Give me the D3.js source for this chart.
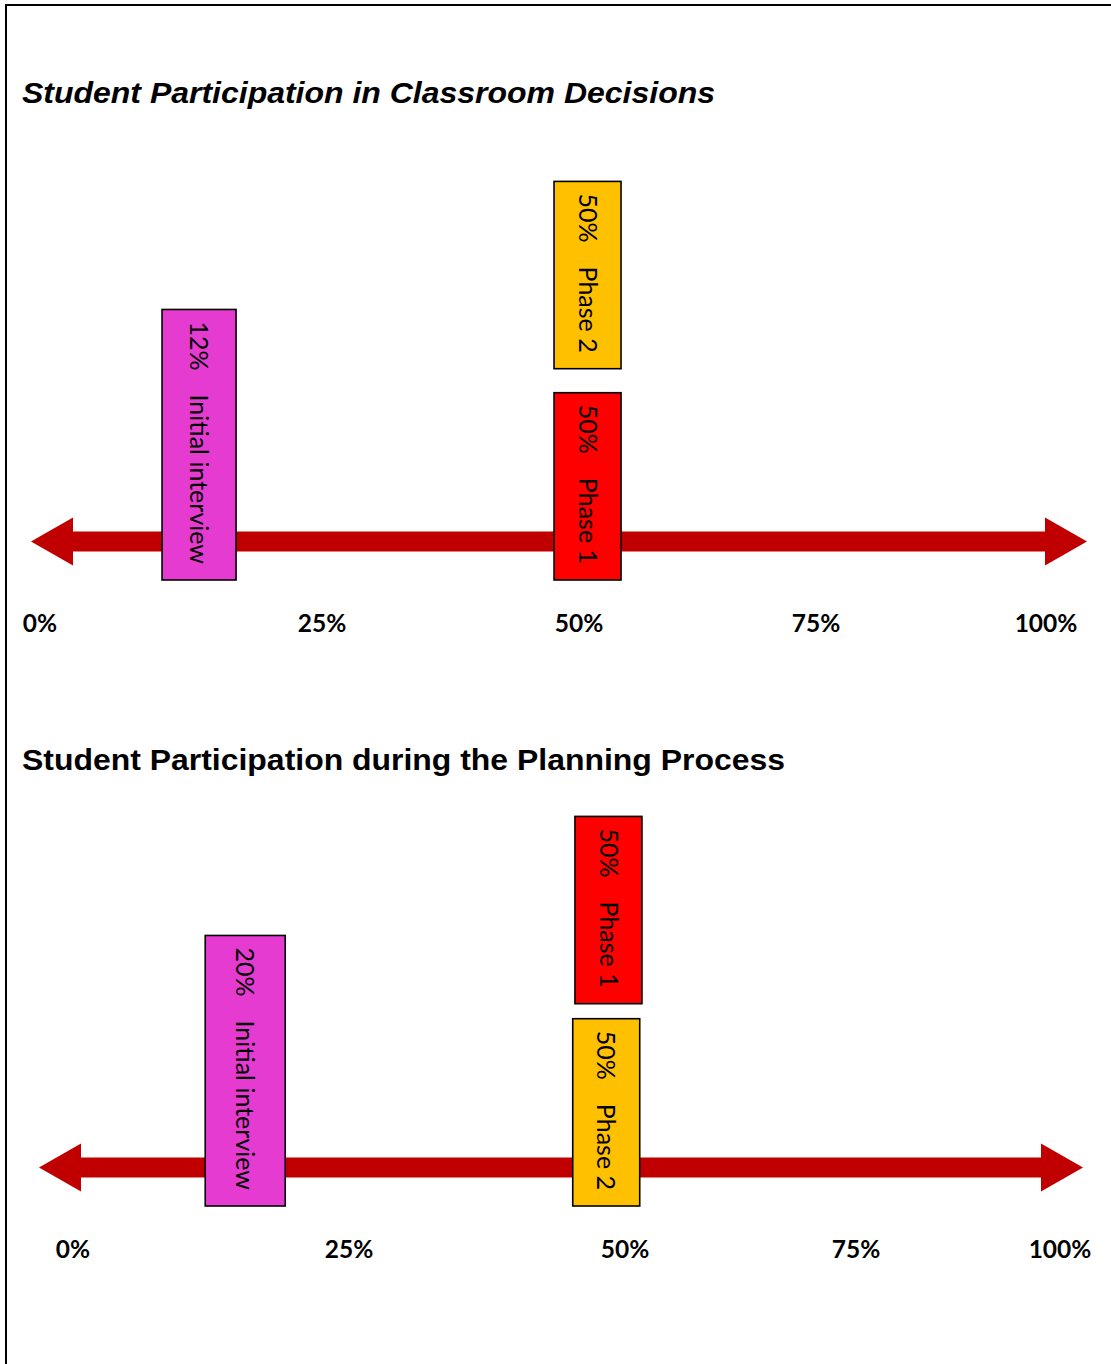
<!DOCTYPE html>
<html>
<head>
<meta charset="utf-8">
<script src="https://cdn.jsdelivr.net/npm/d3@7"></script>
<style>
  html, body { margin: 0; padding: 0; background: #fff; }
  svg { display: block; }
</style>
</head>
<body>
<div id="chart"></div>
<script>
// tick values + labels shared by both timelines
const ticks = [0, 25, 50, 75, 100]
const tickLabels = ['0%', '25%', '50%', '75%', '100%']

const titles = [
  'Student Participation in Classroom Decisions',
  'Student Participation during the Planning Process'
]

// chart 1 (bottom of stack first)
const stages1 = ['Initial interview', 'Phase 1', 'Phase 2']
const values1 = [12, 50, 50]
const where1 = [14.1, 50.9, 50.9]   // where the box sits on the line
const level1 = [0, 0, 1]

// chart 2
const stages2 = ['Initial interview', 'Phase 2', 'Phase 1']
const values2 = [20, 50, 50]
const where2 = [15.6, 48.3, 48.5]
const level2 = [0, 0, 1]

const stageColor = {
  'Initial interview': '#e63bd0',
  'Phase 1': '#ff0000',
  'Phase 2': '#ffc000'
}

const width = 1111
const height = 1364

const svg = d3.select('#chart')
  .append('svg')
  .attr('width', width)
  .attr('height', height)

// page frame (runs off the right and bottom edges)
svg.append('rect')
  .attr('x', 6).attr('y', 5)
  .attr('width', 1300).attr('height', 1500)
  .attr('fill', 'none')
  .attr('stroke', '#000')
  .attr('stroke-width', 2)

const layouts = [
  { titleY: 103, titleW: 693, italic: true, axisY: 541.5, tickX: [40, 322, 579, 816, 1046], arrow: [31, 1087], initW: 74, gap: 24 },
  { titleY: 770, titleW: 763, italic: false, axisY: 1167.5, tickX: [73, 349, 625, 856, 1060], arrow: [39, 1083], initW: 80, gap: 15 }
]

const charts = [
  { stages: stages1, values: values1, where: where1, level: level1 },
  { stages: stages2, values: values2, where: where2, level: level2 }
]

charts.forEach((c, i) => drawTimeline(c, layouts[i], titles[i]))

function drawTimeline(c, L, title) {
  const g = svg.append('g')

  // hand-drawn axis: ticks are not evenly spaced, so use a piecewise scale
  const x = d3.scaleLinear().domain(ticks).range(L.tickX)

  g.append('text')
    .attr('x', 22)
    .attr('y', L.titleY)
    .attr('textLength', L.titleW)
    .attr('lengthAdjust', 'spacingAndGlyphs')
    .style('font-family', '"Liberation Sans", Arial, sans-serif')
    .style('font-size', '30px')
    .style('font-weight', 'bold')
    .style('font-style', L.italic ? 'italic' : 'normal')
    .text(title)

  // double-headed arrow
  const shaft = 10, head = 24, headLen = 42
  const [x0, x1] = L.arrow
  const y = L.axisY
  const pts = [
    [x0, y], [x0 + headLen, y - head], [x0 + headLen, y - shaft],
    [x1 - headLen, y - shaft], [x1 - headLen, y - head], [x1, y],
    [x1 - headLen, y + head], [x1 - headLen, y + shaft],
    [x0 + headLen, y + shaft], [x0 + headLen, y + head]
  ]
  g.append('path')
    .attr('d', d3.line()(pts) + 'Z')
    .attr('fill', '#c00000')

  // tick labels
  g.selectAll('.tick')
    .data(ticks)
    .join('text')
    .attr('class', 'tick')
    .attr('x', d => x(d))
    .attr('y', y + 90)
    .attr('text-anchor', 'middle')
    .style('font-family', 'Lato, sans-serif')
    .style('font-size', '24.5px')
    .style('font-weight', 'bold')
    .text((d, k) => tickLabels[k])

  // boxes, sized to fit their rotated label
  const bottom = y + 38.5
  let prevTop = bottom
  c.stages.forEach((s, k) => {
    const w = s === 'Initial interview' ? L.initW : 67
    const cx = x(c.where[k])
    const box = g.append('g')

    const label = box.append('text')
      .style('font-family', 'Lato, sans-serif')
      .style('font-size', '25px')
      .attr('dy', '0.35em')
    label.append('tspan').text(c.values[k] + '%')
    label.append('tspan').attr('dx', 24).text(s)

    const len = label.node().getComputedTextLength() + 24
    const h = len + 28
    const b = c.level[k] === 0 ? bottom : prevTop - L.gap
    const top = b - h

    box.insert('rect', 'text')
      .attr('x', cx - w / 2)
      .attr('y', top)
      .attr('width', w)
      .attr('height', h)
      .attr('fill', stageColor[s])
      .attr('stroke', '#000')
      .attr('stroke-width', 1.6)

    label.attr('transform', `translate(${cx},${top + 12}) rotate(90)`)
    prevTop = top
  })
}
</script>
</body>
</html>
